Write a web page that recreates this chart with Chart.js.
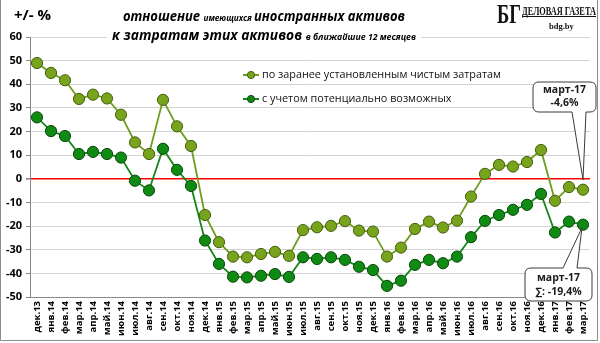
<!DOCTYPE html>
<html>
<head>
<meta charset="utf-8">
<script src="https://cdn.jsdelivr.net/npm/chart.js@4.4.1/dist/chart.umd.min.js"></script>
<style>
  html, body { margin: 0; padding: 0; background: #fff; }
  #wrap { width: 600px; height: 343px; }
</style>
</head>
<body>
<div id="wrap"><canvas id="grafico" width="600" height="343"></canvas></div>
<script>
// ==========================================
// DATOS
// ==========================================

var meses = ["дек.13", "янв.14", "фев.14", "мар.14", "апр.14", "май.14", "июн.14", "июл.14", "авг.14", "сен.14",
  "окт.14", "ноя.14", "дек.14", "янв.15", "фев.15", "мар.15", "апр.15", "май.15", "июн.15", "июл.15",
  "авг.15", "сен.15", "окт.15", "ноя.15", "дек.15", "янв.16", "фев.16", "мар.16", "апр.16", "май.16",
  "июн.16", "июл.16", "авг.16", "сен.16", "окт.16", "ноя.16", "дек.16", "янв.17", "фев.17", "мар.17"];

var chistye = [49.0, 44.8, 41.7, 33.8, 35.6, 34.0, 27.1, 15.4, 10.5, 33.4,
  22.2, 13.9, -15.3, -26.8, -32.9, -33.2, -31.8, -30.9, -32.6, -21.7,
  -20.5, -19.9, -17.9, -21.9, -22.3, -32.9, -29.1, -21.2, -18.1, -20.6,
  -17.7, -7.5, 2.1, 5.9, 5.2, 7.1, 12.2, -9.3, -3.5, -4.6];

var potencial = [26.0, 20.2, 18.1, 10.5, 11.4, 10.5, 9.0, -0.8, -4.9, 12.7,
  3.8, -3.0, -26.1, -36.0, -41.4, -41.7, -41.0, -40.3, -41.5, -33.2,
  -33.9, -33.2, -34.3, -37.2, -38.6, -45.3, -43.1, -36.4, -34.3, -35.7,
  -32.9, -24.7, -17.8, -15.3, -13.1, -11.0, -6.4, -22.7, -18.1, -19.4];

var yMin = -50, yMax = 60, yPaso = 10;

var nombreSerie1 = "по заранее установленным чистым затратам";
var nombreSerie2 = "с учетом потенциально возможных";
var nota1 = ["март-17", "-4,6%"];
var nota2 = ["март-17", "∑: -19,4%"];

var colorLinea1 = "#6f9c1f", colorPunto1 = "#78a31c", borde1 = "#44600e";
var colorLinea2 = "#16861a", colorPunto2 = "#0f8a12", borde2 = "#0a4a0a";

// ==========================================
// DIBUJO EXTRA (títulos, leyenda, notas)
// ==========================================

function textoAjustado(ctx, partes, x, y, ancho) {
  var total = 0;
  partes.forEach(function (p) {
    ctx.font = p.f;
    total += ctx.measureText(p.t).width;
  });
  var k = ancho / total;
  ctx.save();
  ctx.translate(x, y);
  ctx.scale(k, 1);
  var pos = 0;
  partes.forEach(function (p) {
    ctx.font = p.f;
    ctx.fillText(p.t, pos, 0);
    pos += ctx.measureText(p.t).width;
  });
  ctx.restore();
}

function nota(ctx, x0, y0, x1, y1, punta, lado, lineas, ty) {
  var r = 6;
  ctx.save();
  ctx.beginPath();
  ctx.moveTo(x0 + r, y0);
  if (lado === "arriba") {
    ctx.lineTo(punta.a, y0);
    ctx.lineTo(punta.x, punta.y);
    ctx.lineTo(punta.b, y0);
  }
  ctx.lineTo(x1 - r, y0);
  ctx.quadraticCurveTo(x1, y0, x1, y0 + r);
  ctx.lineTo(x1, y1 - r);
  ctx.quadraticCurveTo(x1, y1, x1 - r, y1);
  if (lado === "abajo") {
    ctx.lineTo(punta.b, y1);
    ctx.lineTo(punta.x, punta.y);
    ctx.lineTo(punta.a, y1);
  }
  ctx.lineTo(x0 + r, y1);
  ctx.quadraticCurveTo(x0, y1, x0, y1 - r);
  ctx.lineTo(x0, y0 + r);
  ctx.quadraticCurveTo(x0, y0, x0 + r, y0);
  ctx.closePath();
  ctx.fillStyle = "#fff";
  ctx.fill();
  ctx.strokeStyle = "#3a3a3a";
  ctx.lineWidth = 1;
  ctx.stroke();
  ctx.fillStyle = "#1a1a1a";
  ctx.font = "bold 10.5px 'Open Sans'";
  ctx.textAlign = "center";
  ctx.textBaseline = "middle";
  ctx.fillText(lineas[0], (x0 + x1) / 2, ty[0]);
  ctx.fillText(lineas[1], (x0 + x1) / 2, ty[1]);
  ctx.restore();
}

var extras = {
  id: "extras",
  beforeDraw: function (chart) {
    var ctx = chart.ctx;
    ctx.save();
    ctx.fillStyle = "#fff";
    ctx.fillRect(0, 0, chart.width, chart.height);
    ctx.restore();
  },
  afterDraw: function (chart) {
    var ctx = chart.ctx;
    ctx.save();

    // unidad
    ctx.fillStyle = "#000";
    ctx.font = "bold 15px 'Open Sans'";
    ctx.textBaseline = "middle";
    ctx.fillText("+/- %", 14, 16);

    // título
    var grande = "italic bold 15px 'Open Sans'";
    var chico = "italic bold 9.5px 'Open Sans'";
    ctx.textBaseline = "alphabetic";
    textoAjustado(ctx, [
      { t: "отношение ", f: grande },
      { t: "имеющихся ", f: chico },
      { t: "иностранных активов", f: grande }
    ], 123, 20.5, 282);
    ctx.fillStyle = "#fff";
    ctx.fillRect(107, 28, 314, 16);
    ctx.fillStyle = "#000";
    textoAjustado(ctx, [
      { t: "к затратам этих активов ", f: grande },
      { t: "в ближайшие 12 месяцев", f: chico }
    ], 112, 40, 304);

    // logo
    ctx.fillStyle = "#111";
    ctx.save();
    ctx.translate(497, 23);
    ctx.scale(0.66, 1);
    ctx.font = "bold 28px 'Liberation Serif'";
    ctx.fillText("БГ", 0, 0);
    ctx.restore();
    textoAjustado(ctx, [{ t: "ДЕЛОВАЯ ГАЗЕТА", f: "bold 12px 'Liberation Serif'" }], 522, 15, 74);
    ctx.fillRect(522, 16, 74, 1);
    ctx.font = "bold 8.5px 'Liberation Serif'";
    ctx.fillText("bdg.by", 549, 29);

    // leyenda
    var filas = [
      { y: 75, t: nombreSerie1, l: colorLinea1, p: colorPunto1, b: borde1 },
      { y: 99, t: nombreSerie2, l: colorLinea2, p: colorPunto2, b: borde2 }
    ];
    ctx.font = "11px 'Open Sans'";
    var k = 239 / ctx.measureText(nombreSerie1).width;
    filas.forEach(function (f) {
      ctx.strokeStyle = f.l;
      ctx.lineWidth = 2;
      ctx.beginPath();
      ctx.moveTo(243, f.y);
      ctx.lineTo(259, f.y);
      ctx.stroke();
      ctx.beginPath();
      ctx.arc(251, f.y, 3.6, 0, Math.PI * 2);
      ctx.fillStyle = f.p;
      ctx.fill();
      ctx.strokeStyle = f.b;
      ctx.lineWidth = 1;
      ctx.stroke();
      ctx.fillStyle = "#111";
      ctx.textBaseline = "middle";
      ctx.save();
      ctx.translate(262, f.y);
      ctx.scale(k, 1);
      ctx.font = "11px 'Open Sans'";
      ctx.fillText(f.t, 0, 0);
      ctx.restore();
    });

    // notas del último mes
    var p1 = chart.getDatasetMeta(0).data[chistye.length - 1];
    var p2 = chart.getDatasetMeta(1).data[potencial.length - 1];
    nota(ctx, 533, 82, 596, 112, { a: 572, b: 586, x: p1.x, y: p1.y - 10 }, "abajo", nota1, [90, 103]);
    nota(ctx, 525, 268, 592, 301, { a: 563, b: 577, x: p2.x - 1, y: p2.y + 3 }, "arriba", nota2, [278, 292]);

    // marco
    ctx.strokeStyle = "#8c8c8c";
    ctx.lineWidth = 1;
    ctx.beginPath();
    ctx.moveTo(0.5, 0);
    ctx.lineTo(0.5, 340.5);
    ctx.lineTo(597.5, 340.5);
    ctx.lineTo(597.5, 0);
    ctx.stroke();

    ctx.restore();
  }
};

// ==========================================
// GRÁFICO
// ==========================================

var ctxGrafico = document.getElementById("grafico");
new Chart(ctxGrafico, {
  type: "line",
  data: {
    labels: meses,
    datasets: [{
      label: nombreSerie1,
      data: chistye,
      borderColor: colorLinea1,
      borderWidth: 1.8,
      pointBackgroundColor: colorPunto1,
      pointBorderColor: borde1,
      pointBorderWidth: 1,
      pointRadius: 5.6,
      tension: 0
    }, {
      label: nombreSerie2,
      data: potencial,
      borderColor: colorLinea2,
      borderWidth: 1.8,
      pointBackgroundColor: colorPunto2,
      pointBorderColor: borde2,
      pointBorderWidth: 1,
      pointRadius: 5.6,
      tension: 0
    }]
  },
  options: {
    responsive: false,
    animation: false,
    layout: { padding: { left: 0, top: 37, right: 10, bottom: 0 } },
    plugins: {
      legend: { display: false },
      tooltip: { enabled: false }
    },
    scales: {
      x: {
        offset: true,
        grid: { display: false, drawTicks: false },
        border: { display: true, color: "#8a8a8a" },
        ticks: {
          autoSkip: false,
          maxRotation: 90,
          minRotation: 90,
          padding: 4,
          color: "#000",
          font: { family: "'Open Sans'", weight: "bold", size: 9.5 }
        },
        afterFit: function (s) { s.height = 46; }
      },
      y: {
        min: yMin,
        max: yMax,
        grid: {
          color: function (c) { return c.tick && c.tick.value === 0 ? "#ff0000" : "#d4d4d4"; },
          lineWidth: function (c) { return c.tick && c.tick.value === 0 ? 1.6 : 1; },
          tickColor: "#8a8a8a",
          tickLength: 4
        },
        border: { display: true, color: "#8a8a8a" },
        ticks: {
          stepSize: yPaso,
          padding: 4,
          color: "#000",
          font: { family: "'Open Sans'", weight: "bold", size: 11 }
        },
        afterFit: function (s) { s.width = 30; }
      }
    }
  },
  plugins: [extras]
});
</script>
</body>
</html>
